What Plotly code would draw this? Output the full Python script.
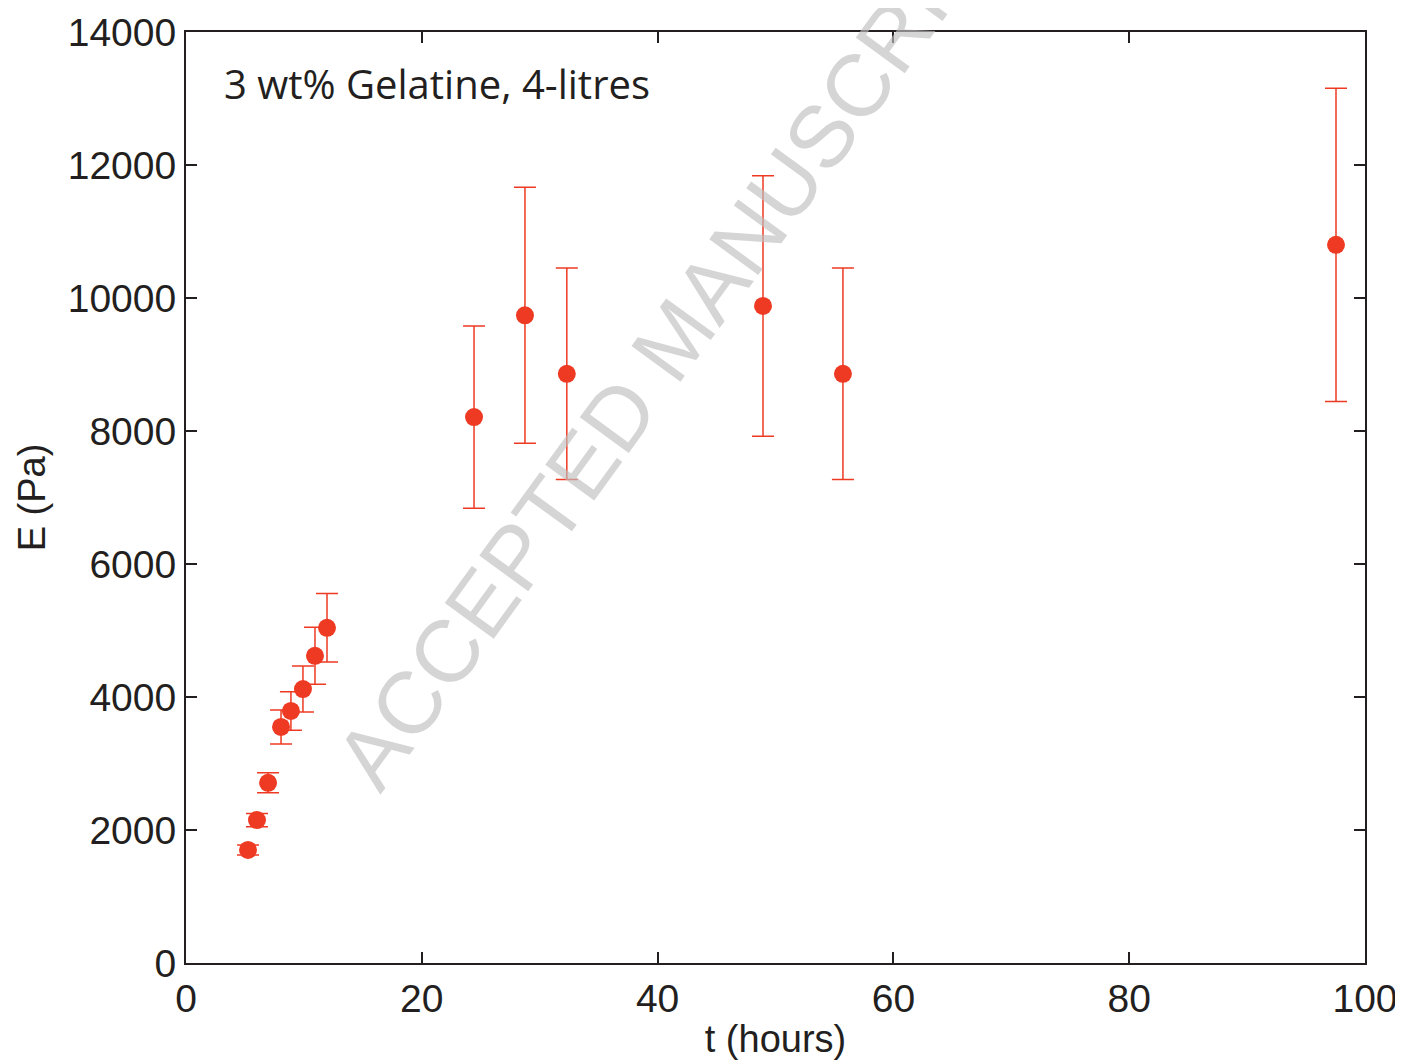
import plotly.graph_objects as go

t_hours = [5.26, 6.02, 6.96, 8.06, 8.9, 9.92, 10.94, 11.96, 24.43, 28.75, 32.3, 48.94, 55.72, 97.54]
E_pa = [1700, 2150, 2710, 3550, 3790, 4120, 4620, 5040, 8210, 9740, 8860, 9880, 8860, 10800]
E_err = [75, 100, 150, 255, 290, 345, 430, 515, 1370, 1925, 1590, 1960, 1590, 2355]

x_ticks = [0, 20, 40, 60, 80, 100]
y_ticks = [0, 2000, 4000, 6000, 8000, 10000, 12000, 14000]

red = "#EE3A23"
dark = "#231f20"
font_main = "Liberation Sans, Arial, sans-serif"

fig = go.Figure()
fig.add_trace(go.Scatter(
    x=t_hours, y=E_pa, mode="markers",
    marker=dict(color=red, size=18, symbol="circle"),
    error_y=dict(type="data", array=E_err, visible=True, color=red, thickness=1.5, width=11),
    showlegend=False,
))

fig.add_annotation(
    text="ACCEPTED MANUSCRIPT", xref="paper", yref="paper", x=0.414, y=0.671,
    xanchor="center", yanchor="middle",
    showarrow=False, textangle=-54,
    font=dict(family=font_main, size=88, color="rgba(190,190,190,0.65)"),
)
fig.add_annotation(
    text="3 wt% Gelatine, 4-litres", xref="paper", yref="paper", x=0.0305, y=0.945,
    xanchor="left", yanchor="middle", showarrow=False,
    font=dict(family="Open Sans, sans-serif", size=40, color=dark),
)

axis_common = dict(
    showline=True, linecolor=dark, linewidth=2, mirror="ticks",
    ticks="inside", ticklen=11, tickwidth=1.5, tickcolor=dark,
    showgrid=False, zeroline=False, automargin=False,
    tickfont=dict(family=font_main, size=39, color=dark),
)

fig.update_layout(
    width=1395, height=1053,
    margin=dict(l=178, r=38, t=24, b=98),
    plot_bgcolor="white", paper_bgcolor="white",
    xaxis=dict(range=[0, 100], tickvals=x_ticks, ticktext=[str(v) for v in x_ticks], **axis_common,
               title=dict(text="t (hours)", font=dict(family=font_main, size=38, color=dark), standoff=7)),
    yaxis=dict(range=[0, 14000], tickvals=y_ticks, ticktext=[str(v) for v in y_ticks], **axis_common,
               title=dict(text="E (Pa)", font=dict(family=font_main, size=38, color=dark), standoff=10)),
)

fig.write_html("out.html")
